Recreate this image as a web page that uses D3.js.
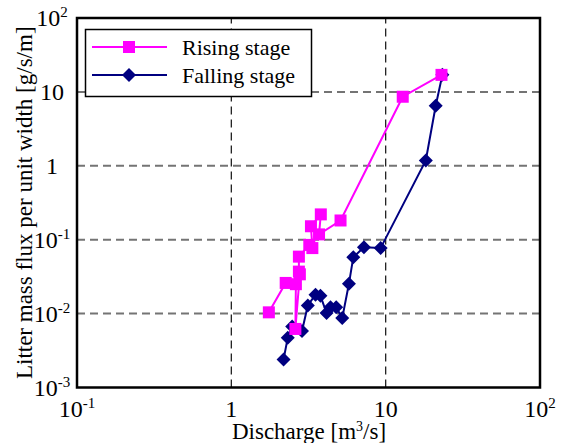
<!DOCTYPE html>
<html>
<head>
<meta charset="utf-8">
<script src="https://cdn.jsdelivr.net/npm/d3@7"></script>
<style>
  body { margin: 0; background: #fff; }
  svg text { font-family: "Liberation Serif", "Times New Roman", serif; fill: #000; }
</style>
</head>
<body>
<div id="chart"></div>
<script>
// Rising stage (pink squares), in drawing order
var risingQ = [1.75, 2.25, 2.62, 2.6, 2.78, 2.74, 2.74, 3.2, 3.35, 3.28, 3.8, 3.7, 5.1, 12.9, 23.0];
var risingF = [0.0104, 0.026, 0.025, 0.0062, 0.034, 0.037, 0.059, 0.085, 0.077, 0.152, 0.22, 0.118, 0.182, 8.6, 17.0];

// Falling stage (navy diamonds)
var fallingQ = [2.18, 2.32, 2.48, 2.87, 3.13, 3.51, 3.78, 4.14, 4.39, 4.78, 5.23, 5.78, 6.17, 7.23, 9.28, 18.2, 21.1, 23.3];
var fallingF = [0.0024, 0.0047, 0.0067, 0.0058, 0.0129, 0.018, 0.0174, 0.0102, 0.0122, 0.0122, 0.0087, 0.0253, 0.058, 0.079, 0.077, 1.18, 6.5, 17.0];

var xTicks = [0.1, 1, 10, 100];
var xTickBase = ["10", "1", "10", "10"];
var xTickExp = ["-1", "", "", "2"];
var yTicks = [0.001, 0.01, 0.1, 1, 10, 100];
var yTickBase = ["10", "10", "10", "1", "10", "10"];
var yTickExp = ["-3", "-2", "-1", "", "", "2"];

var seriesNames = ["Rising stage", "Falling stage"];
var seriesColors = ["#ff00ff", "#000080"];

var width = 563, height = 443;
var svg = d3.select("#chart").append("svg")
    .attr("width", width)
    .attr("height", height);

var x = d3.scaleLog().domain([0.1, 100]).range([77, 540]);
var y = d3.scaleLog().domain([0.001, 100]).range([387.5, 18]);

// grid lines
svg.append("g").selectAll("line")
    .data(yTicks.filter(function(d) { return d > 0.001 && d < 100; }))
    .enter().append("line")
    .attr("x1", x(0.1)).attr("x2", x(100))
    .attr("y1", function(d) { return y(d); })
    .attr("y2", function(d) { return y(d); })
    .attr("stroke", "#747474")
    .attr("stroke-width", 2)
    .attr("stroke-dasharray", "8,5");

svg.append("g").selectAll("line")
    .data(xTicks.filter(function(d) { return d > 0.1 && d < 100; }))
    .enter().append("line")
    .attr("y1", y(0.001)).attr("y2", y(100))
    .attr("x1", function(d) { return x(d); })
    .attr("x2", function(d) { return x(d); })
    .attr("stroke", "#222")
    .attr("stroke-width", 1.3)
    .attr("stroke-dasharray", "8,5");

// frame
svg.append("rect")
    .attr("x", x(0.1)).attr("y", y(100))
    .attr("width", x(100) - x(0.1))
    .attr("height", y(0.001) - y(100))
    .attr("fill", "none")
    .attr("stroke", "#000")
    .attr("stroke-width", 2.5);

// tick labels
function supLabel(sel, base, exp) {
    sel.append("tspan").text(base);
    if (exp) {
        sel.append("tspan")
            .attr("dy", -9)
            .attr("font-size", 15)
            .text(exp);
    }
}

svg.append("g").selectAll("text")
    .data(xTicks)
    .enter().append("text")
    .attr("x", function(d) { return x(d); })
    .attr("y", 417)
    .attr("font-size", 24)
    .attr("text-anchor", "middle")
    .each(function(d, i) { supLabel(d3.select(this), xTickBase[i], xTickExp[i]); });

svg.append("g").selectAll("text")
    .data(yTicks)
    .enter().append("text")
    .attr("x", 52)
    .attr("y", function(d) { return y(d) + 8; })
    .attr("font-size", 24)
    .attr("text-anchor", "middle")
    .each(function(d, i) { supLabel(d3.select(this), yTickBase[i], yTickExp[i]); });

// axis titles
var xt = svg.append("text")
    .attr("x", 309).attr("y", 439)
    .attr("font-size", 23)
    .attr("text-anchor", "middle");
xt.append("tspan").text("Discharge [m");
xt.append("tspan").attr("dy", -8).attr("font-size", 14).text("3");
xt.append("tspan").attr("dy", 8).text("/s]");

svg.append("text")
    .attr("transform", "translate(32," + ((y(100) + y(0.001)) / 2) + ") rotate(-90)")
    .attr("font-size", 23)
    .attr("text-anchor", "middle")
    .text("Litter mass flux per unit width [g/s/m]");

// series
var line = d3.line()
    .x(function(d) { return x(d[0]); })
    .y(function(d) { return y(d[1]); });

var rising = risingQ.map(function(q, i) { return [q, risingF[i]]; });
var falling = fallingQ.map(function(q, i) { return [q, fallingF[i]]; });

var diamond = d3.symbol().type(d3.symbolSquare).size(98);

svg.append("path")
    .datum(falling)
    .attr("d", line)
    .attr("fill", "none")
    .attr("stroke", seriesColors[1])
    .attr("stroke-width", 2);

svg.append("g").selectAll("path")
    .data(falling)
    .enter().append("path")
    .attr("d", diamond)
    .attr("transform", function(d) { return "translate(" + x(d[0]) + "," + y(d[1]) + ") rotate(45)"; })
    .attr("fill", seriesColors[1]);

svg.append("path")
    .datum(rising)
    .attr("d", line)
    .attr("fill", "none")
    .attr("stroke", seriesColors[0])
    .attr("stroke-width", 2);

svg.append("g").selectAll("rect")
    .data(rising)
    .enter().append("rect")
    .attr("x", function(d) { return x(d[0]) - 6; })
    .attr("y", function(d) { return y(d[1]) - 6; })
    .attr("width", 12)
    .attr("height", 12)
    .attr("fill", seriesColors[0]);

// legend
var legend = svg.append("g");
legend.append("rect")
    .attr("x", 85.5).attr("y", 29.5)
    .attr("width", 226).attr("height", 67)
    .attr("fill", "#fff")
    .attr("stroke", "#000")
    .attr("stroke-width", 1.5);

var legendY = [47, 75];
seriesNames.forEach(function(name, i) {
    legend.append("line")
        .attr("x1", 92).attr("x2", 167)
        .attr("y1", legendY[i]).attr("y2", legendY[i])
        .attr("stroke", seriesColors[i])
        .attr("stroke-width", 2);
    if (i === 0) {
        legend.append("rect")
            .attr("x", 123).attr("y", legendY[i] - 6)
            .attr("width", 12).attr("height", 12)
            .attr("fill", seriesColors[i]);
    } else {
        legend.append("path")
            .attr("d", diamond)
            .attr("transform", "translate(129," + legendY[i] + ") rotate(45)")
            .attr("fill", seriesColors[i]);
    }
    legend.append("text")
        .attr("x", 182).attr("y", legendY[i] + 8)
        .attr("font-size", 22)
        .text(name);
});
</script>
</body>
</html>
